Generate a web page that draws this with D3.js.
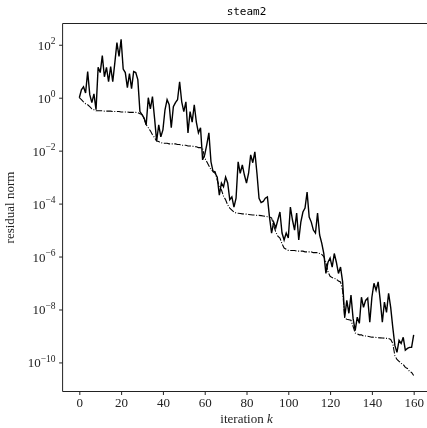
<!DOCTYPE html>
<html>
<head>
<meta charset="utf-8">
<script src="https://cdn.jsdelivr.net/npm/d3@7"></script>
<style>
  html, body { margin: 0; padding: 0; background: #fff; }
  svg { display: block; will-change: transform; }
  .tick-label { font-family: "Liberation Serif", "DejaVu Serif", serif; font-size: 13px; fill: #222; }
  .title { font-family: "DejaVu Sans Mono", "Liberation Mono", monospace; font-size: 11px; fill: #000; }
</style>
</head>
<body>
<svg id="chart" width="427" height="428"></svg>
<script>
// Residual norm per iteration k (solid line)
const residual = [
  1.0e0, 2.0e0, 2.6e0, 1.5e0, 9.7e0, 1.3e0, 6.5e-1, 1.4e0, 3.5e-1, 1.4e1,
  8.9e0, 3.9e1, 6.2e0, 1.4e1, 4.0e0, 1.5e1, 4.0e0, 2.1e1, 1.2e2, 3.6e1,
  1.6e2, 1.2e1, 8.9e0, 2.4e0, 8.1e0, 2.2e0, 9.7e0, 8.9e0, 4.8e0, 3.0e-1,
  2.3e-1, 1.7e-1, 9.5e-2, 1.0e0, 3.8e-1, 1.1e0, 1.7e-1, 2.3e-2, 9.5e-2, 3.3e-2,
  6.1e-2, 3.5e-1, 8.4e-1, 5.4e-1, 7.3e-2, 4.6e-1, 6.5e-1, 8.4e-1, 4.0e0, 7.0e-1,
  3.0e-1, 7.0e-1, 4.7e-2, 3.0e-1, 1.2e-1, 5.4e-1, 1.2e-1, 4.7e-2, 7.3e-2, 4.5e-3,
  6.9e-3, 1.7e-2, 4.7e-2, 3.8e-3, 1.6e-3, 1.4e-3, 1.0e-3, 2.1e-4, 6.0e-4, 4.3e-4,
  1.0e-3, 6.0e-4, 1.4e-4, 1.8e-4, 7.4e-5, 1.6e-4, 3.8e-3, 1.4e-3, 2.9e-3, 1.2e-3,
  6.0e-4, 1.4e-3, 6.9e-3, 3.5e-3, 9.0e-3, 1.4e-3, 1.6e-4, 1.1e-4, 1.2e-4, 1.6e-4,
  1.8e-4, 3.1e-5, 7.7e-6, 2.0e-5, 1.2e-5, 2.4e-5, 4.8e-5, 7.7e-6, 4.2e-6, 7.7e-6,
  5.0e-6, 7.4e-5, 2.4e-5, 1.0e-5, 4.4e-5, 4.2e-6, 2.0e-5, 4.8e-5, 6.8e-5, 2.7e-4,
  3.1e-5, 2.0e-5, 1.0e-5, 7.7e-6, 4.4e-5, 6.5e-6, 3.2e-6, 1.3e-6, 2.3e-7, 6.1e-7,
  8.7e-7, 4.0e-7, 1.3e-6, 6.1e-7, 2.3e-7, 4.0e-7, 1.1e-7, 5.1e-9, 2.2e-8, 7.2e-9,
  3.5e-8, 4.6e-9, 1.6e-9, 5.1e-9, 3.0e-9, 2.9e-8, 1.2e-8, 2.2e-8, 2.7e-8, 3.3e-9,
  2.9e-8, 9.8e-8, 5.3e-8, 1.1e-7, 2.2e-8, 3.3e-9, 1.9e-8, 7.8e-9, 4.1e-8, 1.2e-8,
  2.1e-9, 4.4e-10, 2.4e-10, 6.8e-10, 5.2e-10, 8.9e-10, 2.9e-10, 3.4e-10, 3.7e-10, 3.7e-10,
  1.1e-9
];

// Reference bound per iteration k (dash-dot line)
const bound = [
  1.0e0, 8.4e-1, 7.0e-1, 5.9e-1, 5.4e-1, 4.6e-1, 3.8e-1, 3.5e-1, 3.2e-1, 3.2e-1,
  3.2e-1, 3.2e-1, 3.1e-1, 3.1e-1, 3.1e-1, 3.1e-1, 3.0e-1, 3.0e-1, 3.0e-1, 3.0e-1,
  2.9e-1, 2.9e-1, 2.9e-1, 2.9e-1, 2.8e-1, 2.8e-1, 2.8e-1, 2.8e-1, 2.7e-1, 2.5e-1,
  2.3e-1, 1.6e-1, 9.5e-2, 7.3e-2, 5.6e-2, 4.0e-2, 3.1e-2, 2.3e-2, 2.2e-2, 2.0e-2,
  1.9e-2, 1.9e-2, 1.9e-2, 1.8e-2, 1.8e-2, 1.8e-2, 1.8e-2, 1.7e-2, 1.7e-2, 1.6e-2,
  1.6e-2, 1.6e-2, 1.5e-2, 1.5e-2, 1.5e-2, 1.4e-2, 1.4e-2, 1.3e-2, 1.3e-2, 1.2e-2,
  5.3e-3, 3.8e-3, 2.7e-3, 1.9e-3, 1.7e-3, 1.6e-3, 7.8e-4, 4.3e-4, 3.3e-4, 1.9e-4,
  1.4e-4, 8.9e-5, 6.8e-5, 5.7e-5, 4.8e-5, 4.4e-5, 4.3e-5, 4.2e-5, 4.1e-5, 4.0e-5,
  4.0e-5, 3.9e-5, 3.8e-5, 3.7e-5, 3.7e-5, 3.6e-5, 3.6e-5, 3.5e-5, 3.4e-5, 3.3e-5,
  3.2e-5, 3.1e-5, 2.9e-5, 1.5e-5, 8.4e-6, 5.9e-6, 5.0e-6, 3.0e-6, 2.1e-6, 1.9e-6,
  1.7e-6, 1.7e-6, 1.7e-6, 1.7e-6, 1.6e-6, 1.6e-6, 1.6e-6, 1.6e-6, 1.5e-6, 1.5e-6,
  1.5e-6, 1.5e-6, 1.4e-6, 1.4e-6, 1.4e-6, 1.3e-6, 1.2e-6, 1.0e-6, 6.1e-7, 2.6e-7,
  1.8e-7, 1.6e-7, 1.5e-7, 1.4e-7, 1.2e-7, 1.1e-7, 5.3e-8, 4.6e-9, 4.3e-9, 4.1e-9,
  3.9e-9, 2.3e-9, 1.3e-9, 1.2e-9, 1.1e-9, 1.1e-9, 1.0e-9, 1.0e-9, 9.7e-10, 9.4e-10,
  9.0e-10, 8.9e-10, 8.8e-10, 8.6e-10, 8.5e-10, 8.4e-10, 8.3e-10, 8.1e-10, 8.0e-10, 7.4e-10,
  5.2e-10, 1.8e-10, 1.3e-10, 1.1e-10, 9.2e-11, 8.4e-11, 6.5e-11, 5.9e-11, 4.6e-11, 4.2e-11,
  3.2e-11
];

const xTicks = [0, 20, 40, 60, 80, 100, 120, 140, 160];
const yTickExponents = [2, 0, -2, -4, -6, -8, -10];
const titleText = "steam2";
const xLabelText = "iteration";
const xLabelVar = "k";
const yLabelText = "residual norm";

const svg = d3.select("#chart");
const plot = { left: 62.6, right: 430.4, top: 23.5, bottom: 391.5 };

const x = d3.scaleLinear().domain([-8, 168]).range([plot.left, plot.right]);
const y = d3.scaleLog()
  .domain([Math.pow(10, -11.098), Math.pow(10, 2.803)])
  .range([plot.bottom, plot.top]);

const iters = residual.map((_, i) => i);

// clip to the axes area
svg.append("defs").append("clipPath").attr("id", "clip")
  .append("rect")
  .attr("x", plot.left).attr("y", plot.top)
  .attr("width", plot.right - plot.left).attr("height", plot.bottom - plot.top);

const line = d3.line().x(d => x(d[0])).y(d => y(d[1]));

const g = svg.append("g").attr("clip-path", "url(#clip)");
g.append("path")
  .datum(iters.map(i => [i, bound[i]]))
  .attr("d", line)
  .attr("fill", "none")
  .attr("stroke", "#000")
  .attr("stroke-width", 1.1)
  .attr("stroke-dasharray", "6.4,1.6,1,1.6");
g.append("path")
  .datum(iters.map(i => [i, residual[i]]))
  .attr("d", line)
  .attr("fill", "none")
  .attr("stroke", "#000")
  .attr("stroke-width", 1.4)
  .attr("stroke-linejoin", "miter");

// frame
const frame = svg.append("g").attr("fill", "none").attr("stroke", "#222").attr("stroke-width", 1);
frame.append("line").attr("x1", plot.left).attr("x2", plot.right).attr("y1", plot.top).attr("y2", plot.top);
frame.append("line").attr("x1", plot.left).attr("x2", plot.right).attr("y1", plot.bottom).attr("y2", plot.bottom);
frame.append("line").attr("x1", plot.left).attr("x2", plot.left).attr("y1", plot.top).attr("y2", plot.bottom);
frame.append("line").attr("x1", plot.right).attr("x2", plot.right).attr("y1", plot.top).attr("y2", plot.bottom);

// x axis
const xAxis = d3.axisBottom(x).tickValues(xTicks).tickSize(3.5).tickPadding(3).tickFormat(d3.format("d"));
const gx = svg.append("g").attr("transform", `translate(0,${plot.bottom})`).call(xAxis);
gx.select(".domain").remove();
gx.selectAll(".tick line").attr("stroke", "#222");
gx.selectAll(".tick text").attr("class", "tick-label").attr("fill", "#222");

// y axis with power-of-ten labels
const yAxis = d3.axisLeft(y).tickValues(yTickExponents.map(e => Math.pow(10, e))).tickSize(3.5).tickPadding(4).tickFormat("");
const gy = svg.append("g").attr("transform", `translate(${plot.left},0)`).call(yAxis);
gy.select(".domain").remove();
gy.selectAll(".tick line").attr("stroke", "#222");
gy.selectAll(".tick").each(function(d, i) {
  const e = yTickExponents[i];
  const t = d3.select(this).append("text")
    .attr("class", "tick-label")
    .attr("x", -7).attr("y", 4.5)
    .attr("text-anchor", "end");
  t.append("tspan").text("10");
  t.append("tspan").attr("dy", -5.5).attr("font-size", "9.5px")
    .text(e < 0 ? "\u2212" + Math.abs(e) : String(e));
});

// title
svg.append("text").attr("class", "title")
  .attr("x", (plot.left + plot.right) / 2).attr("y", 15)
  .attr("text-anchor", "middle").text(titleText);

// axis labels
const xl = svg.append("text").attr("class", "tick-label")
  .attr("x", (plot.left + plot.right) / 2).attr("y", 423)
  .attr("text-anchor", "middle");
xl.append("tspan").text(xLabelText + " ");
xl.append("tspan").attr("font-style", "italic").text(xLabelVar);

svg.append("text").attr("class", "tick-label")
  .attr("transform", `translate(14,${(plot.top + plot.bottom) / 2}) rotate(-90)`)
  .attr("text-anchor", "middle").text(yLabelText);
</script>
</body>
</html>
